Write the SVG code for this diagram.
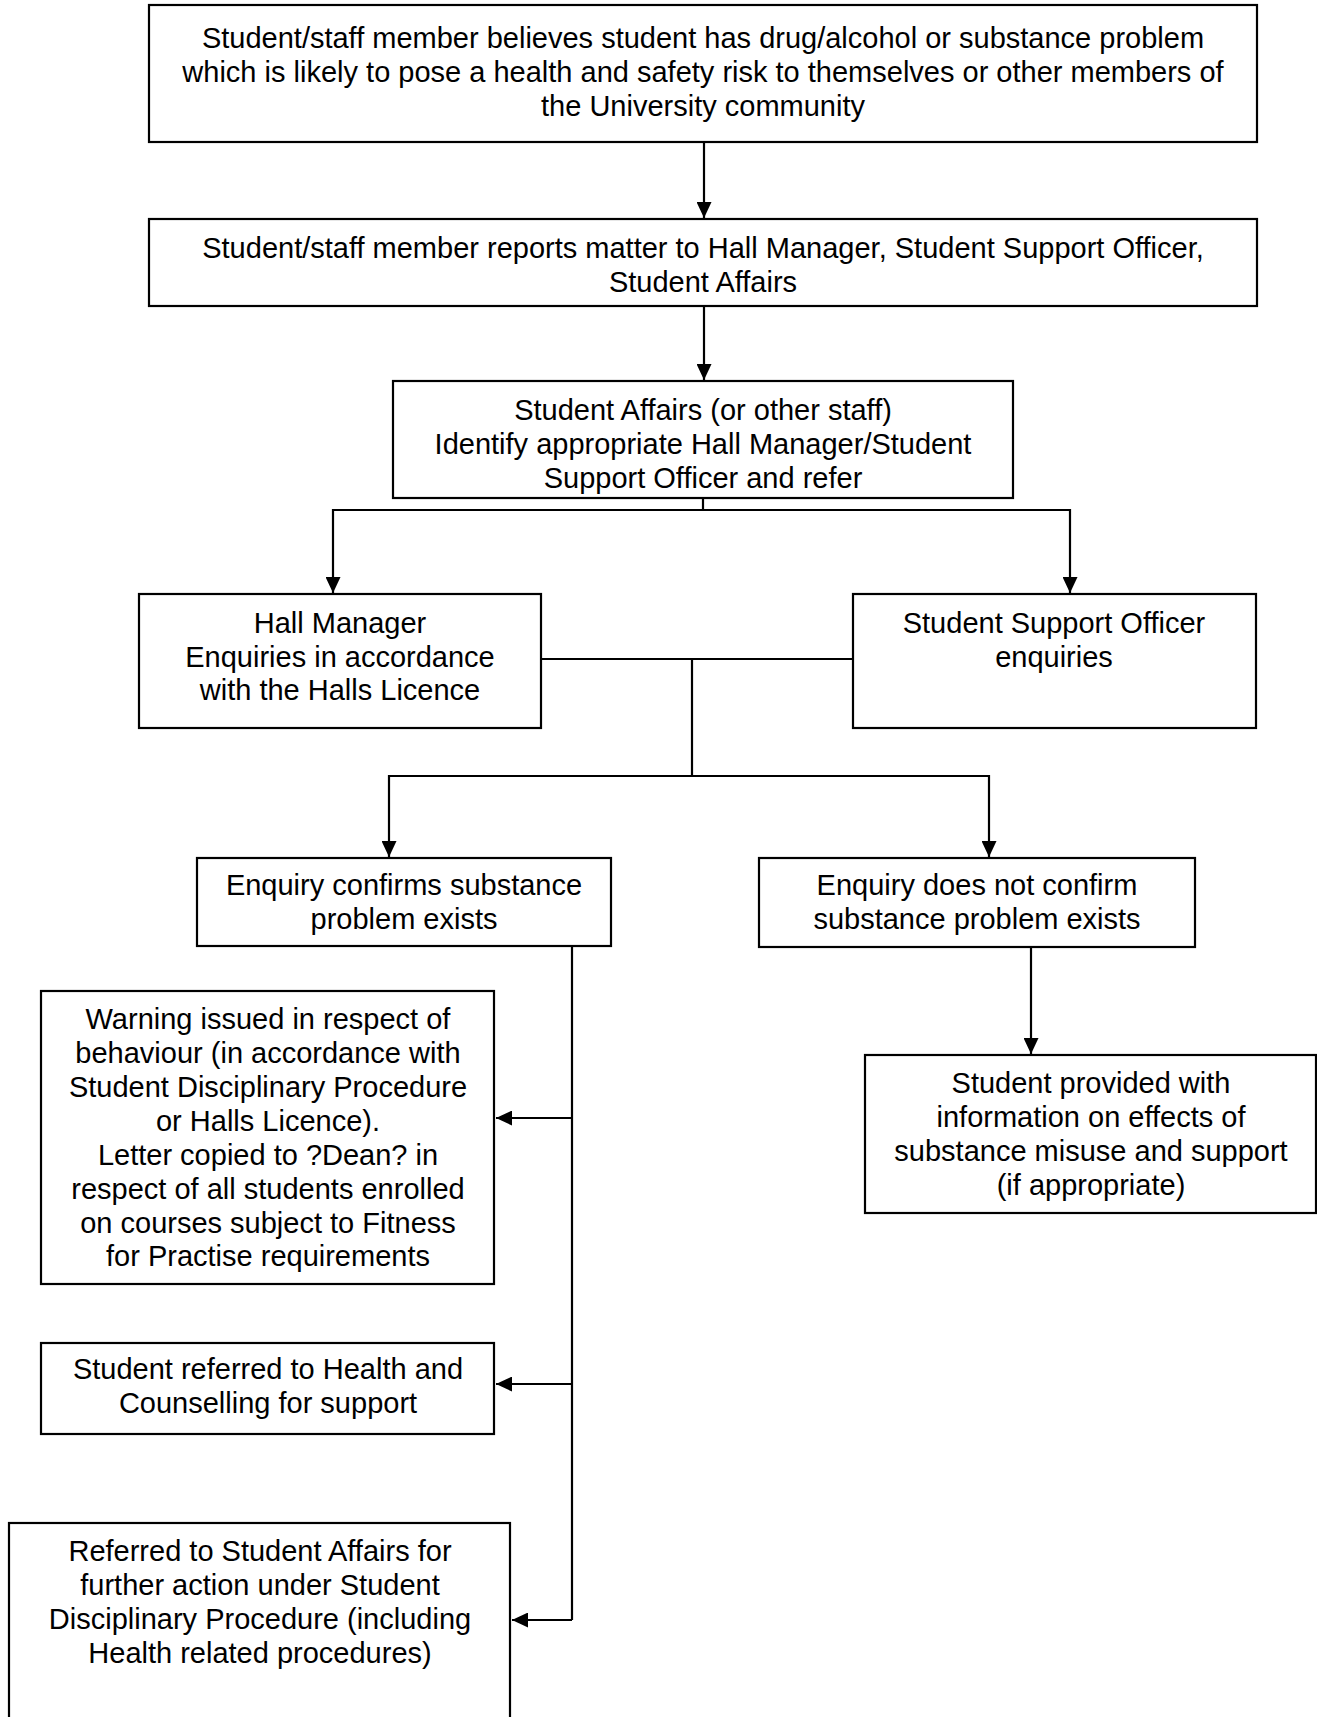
<svg xmlns="http://www.w3.org/2000/svg" width="1317" height="1717" viewBox="0 0 1317 1717">
<style>
.box{fill:#fff;stroke:#000;stroke-width:2.2}
.t{font-family:"Liberation Sans",Arial,sans-serif;font-size:29px;fill:#000;text-anchor:middle}
.c{fill:none;stroke:#000;stroke-width:2.2}
.a{marker-end:url(#ah)}
</style>
<defs>
<marker id="ah" markerUnits="userSpaceOnUse" markerWidth="16" markerHeight="15" refX="16" refY="7.5" orient="auto">
<path d="M0,0 L16,7.5 L0,15 z" fill="#000"/>
</marker>
</defs>
<rect width="1317" height="1717" fill="#fff"/>
<g id="connectors">
<path class="c a" d="M704,143 V218"/>
<path class="c a" d="M704,307 V380"/>
<path class="c a" d="M703,498 V510 H333 V593"/>
<path class="c a" d="M703,510 H1070 V593"/>
<path class="c" d="M541,659 H853"/>
<path class="c" d="M692,659 V776"/>
<path class="c a" d="M692,776 H389 V857"/>
<path class="c a" d="M692,776 H989 V857"/>
<path class="c a" d="M1031,947 V1054"/>
<path class="c" d="M572,947 V1620"/>
<path class="c a" d="M572,1118 H496"/>
<path class="c a" d="M572,1384 H496"/>
<path class="c a" d="M572,1620 H512"/>
</g>
<g id="n1">
<rect class="box" x="149" y="5" width="1108" height="137"/>
<text class="t" x="703" y="48">Student/staff member believes student has drug/alcohol or substance problem</text>
<text class="t" x="703" y="82">which is likely to pose a health and safety risk to themselves or other members of</text>
<text class="t" x="703" y="116">the University community</text>
</g>
<g id="n2">
<rect class="box" x="149" y="219" width="1108" height="87"/>
<text class="t" x="703" y="258">Student/staff member reports matter to Hall Manager, Student Support Officer,</text>
<text class="t" x="703" y="292">Student Affairs</text>
</g>
<g id="n3">
<rect class="box" x="393" y="381" width="620" height="117"/>
<text class="t" x="703" y="420">Student Affairs (or other staff)</text>
<text class="t" x="703" y="454">Identify appropriate Hall Manager/Student</text>
<text class="t" x="703" y="488">Support Officer and refer</text>
</g>
<g id="n4">
<rect class="box" x="139" y="594" width="402" height="134"/>
<text class="t" x="340" y="633">Hall Manager</text>
<text class="t" x="340" y="667">Enquiries in accordance</text>
<text class="t" x="340" y="700">with the Halls Licence</text>
</g>
<g id="n5">
<rect class="box" x="853" y="594" width="403" height="134"/>
<text class="t" x="1054" y="633">Student Support Officer</text>
<text class="t" x="1054" y="667">enquiries</text>
</g>
<g id="n6">
<rect class="box" x="197" y="858" width="414" height="88"/>
<text class="t" x="404" y="895">Enquiry confirms substance</text>
<text class="t" x="404" y="929">problem exists</text>
</g>
<g id="n7">
<rect class="box" x="759" y="858" width="436" height="89"/>
<text class="t" x="977" y="895">Enquiry does not confirm</text>
<text class="t" x="977" y="929">substance problem exists</text>
</g>
<g id="n8">
<rect class="box" x="865" y="1055" width="451" height="158"/>
<text class="t" x="1091" y="1093">Student provided with</text>
<text class="t" x="1091" y="1127">information on effects of</text>
<text class="t" x="1091" y="1161">substance misuse and support</text>
<text class="t" x="1091" y="1195">(if appropriate)</text>
</g>
<g id="n9">
<rect class="box" x="41" y="991" width="453" height="293"/>
<text class="t" x="268" y="1029">Warning issued in respect of</text>
<text class="t" x="268" y="1063">behaviour (in accordance with</text>
<text class="t" x="268" y="1097">Student Disciplinary Procedure</text>
<text class="t" x="268" y="1131">or Halls Licence).</text>
<text class="t" x="268" y="1165">Letter copied to ?Dean? in</text>
<text class="t" x="268" y="1199">respect of all students enrolled</text>
<text class="t" x="268" y="1233">on courses subject to Fitness</text>
<text class="t" x="268" y="1266">for Practise requirements</text>
</g>
<g id="n10">
<rect class="box" x="41" y="1343" width="453" height="91"/>
<text class="t" x="268" y="1379">Student referred to Health and</text>
<text class="t" x="268" y="1413">Counselling for support</text>
</g>
<g id="n11">
<rect class="box" x="9" y="1523" width="501" height="200"/>
<text class="t" x="260" y="1561">Referred to Student Affairs for</text>
<text class="t" x="260" y="1595">further action under Student</text>
<text class="t" x="260" y="1629">Disciplinary Procedure (including</text>
<text class="t" x="260" y="1663">Health related procedures)</text>
</g>
</svg>
